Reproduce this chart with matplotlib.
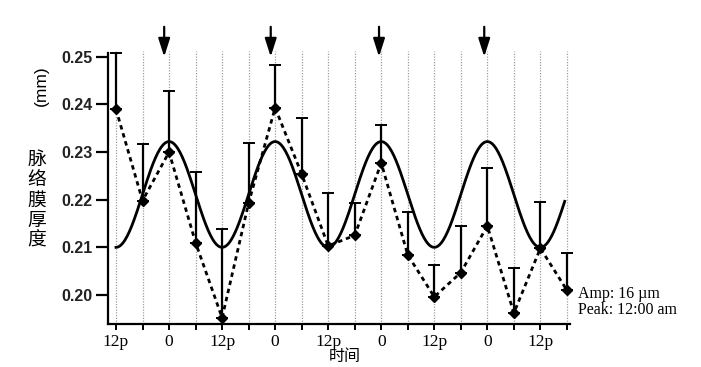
import numpy as np
import matplotlib
matplotlib.use("Agg")
import matplotlib.pyplot as plt

# ---- data ----
hours = [0, 6, 12, 18, 24, 30, 36, 42, 48, 54, 60, 66, 72, 78, 84, 90, 96, 102]
thickness = [0.2390, 0.2198, 0.2300, 0.2110, 0.1952, 0.2193, 0.2393, 0.2254, 0.2103,
             0.2125, 0.2277, 0.2084, 0.1996, 0.2047, 0.2145, 0.1962, 0.2098, 0.2010]
err_top = [0.2508, 0.2317, 0.2429, 0.2259, 0.2139, 0.2320, 0.2482, 0.2372, 0.2214,
           0.2194, 0.2357, 0.2174, 0.2063, 0.2145, 0.2266, 0.2056, 0.2196, 0.2089]
# cosinor fit parameters (mesor, amplitude, acrophase hour, period)
fit_mesor = 0.2211
fit_amp = 0.0111
fit_peak = 12.0
fit_period = 24.0
fit_start, fit_end = 0.0, 101.5
arrow_hours = [10.9, 35.0, 59.5, 83.3]
major_ticks = [0, 12, 24, 36, 48, 60, 72, 84, 96]
major_labels = ["12p", "0", "12p", "0", "12p", "0", "12p", "0", "12p"]
minor_ticks = [6, 18, 30, 42, 54, 66, 78, 90, 102]
y_ticks = [0.20, 0.21, 0.22, 0.23, 0.24, 0.25]
y_labels = ["0.20", "0.21", "0.22", "0.23", "0.24", "0.25"]

W, H = 701, 367
fig = plt.figure(figsize=(W / 100, H / 100), dpi=100)
ax = fig.add_axes([108 / W, 1 - 324 / H, (570 - 108) / W, (324 - 53) / H])

ax.set_xlim(-1.81, 102.7)
ax.set_ylim(0.1939, 0.2508)

# vertical grey dotted lines
ax.vlines(hours, 0.1939, 0.2512, colors="0.62", linestyles=(0, (1, 1.2)), lw=0.9,
          zorder=1, clip_on=False)

# fitted cosine curve
tt = np.linspace(fit_start, fit_end, 400)
ax.plot(tt, fit_mesor + fit_amp * np.cos(2 * np.pi * (tt - fit_peak) / fit_period),
        color="black", lw=2.0, zorder=3)

# error bars (upper only)
vals = np.array(thickness)
upper = np.array(err_top) - vals
ax.errorbar(hours, vals, yerr=[np.zeros_like(upper), upper], fmt="none",
            ecolor="black", elinewidth=1.6, capsize=4.5, capthick=1.4, zorder=4,
            clip_on=False)

# dotted data line
ax.plot(hours, thickness, color="black", lw=2.0, ls=(0, (1.6, 1.4)),
        marker="D", ms=5.5, mfc="black", mec="black", zorder=5, clip_on=False)

# arrows
for h in arrow_hours:
    ax.annotate("", xy=(h, 0.2500), xytext=(h, 0.2563), xycoords="data",
                arrowprops=dict(arrowstyle="-|>,head_width=0.35,head_length=1.1",
                                color="black", lw=1.6, shrinkA=0, shrinkB=0),
                annotation_clip=False)

for s in ["top", "right"]:
    ax.spines[s].set_visible(False)
for s in ["left", "bottom"]:
    ax.spines[s].set_linewidth(1.6)

ax.set_yticks(y_ticks)
ax.set_yticklabels(y_labels, fontfamily="Liberation Sans", fontsize=11.5,
                   fontweight="bold", color="#222222")
ax.tick_params(axis="y", direction="out", length=9, width=1.6, pad=2)

ax.set_xticks(major_ticks)
ax.set_xticklabels(major_labels, fontfamily="Liberation Serif", fontsize=12.5)
ax.set_xticks(minor_ticks, minor=True)
ax.tick_params(axis="x", which="both", direction="out", length=4.5, width=1.4, pad=3)

# labels
fig.text(41 / W, 1 - 86 / H, "(mm)", rotation=90, ha="center", va="center",
         fontfamily="Liberation Sans", fontsize=12.5)
fig.text(37 / W, 1 - 200 / H, "\n".join("脉络膜厚度"), ha="center", va="center",
         fontfamily=["Noto Sans CJK SC", "DejaVu Sans"], fontsize=13.5, linespacing=0.95)
fig.text(345 / W, 2 / H, "时间", ha="center", va="bottom",
         fontfamily=["Noto Sans CJK SC", "DejaVu Sans"], fontsize=11.5)
fig.text(578 / W, 1 - 302 / H, "Amp: 16 µm\nPeak: 12:00 am", ha="left", va="center",
         fontfamily="Liberation Serif", fontsize=11.5, linespacing=1.0)

fig.savefig("out.png", dpi=100)
